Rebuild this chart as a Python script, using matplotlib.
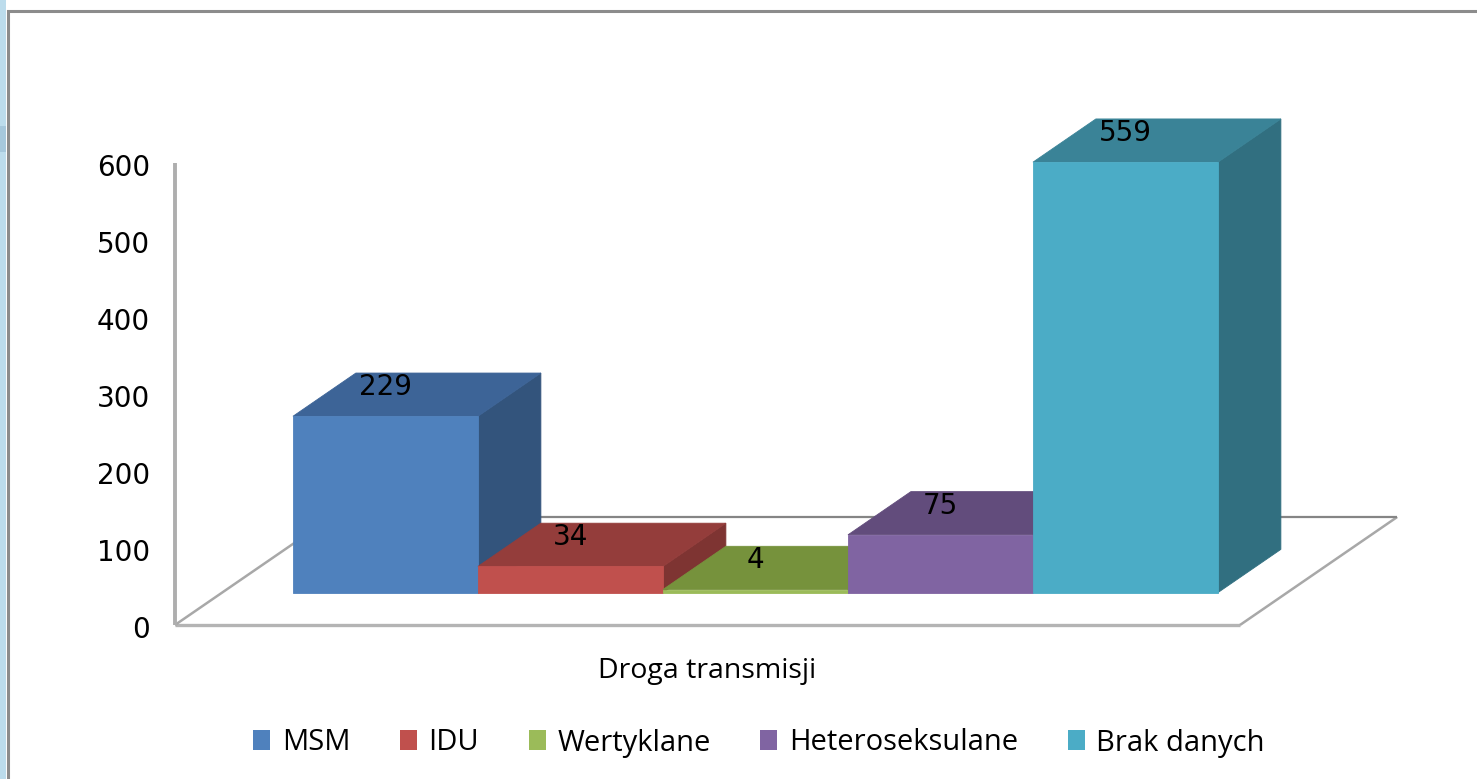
import matplotlib.pyplot as plt
from matplotlib.patches import Polygon, Rectangle, Patch

# data
categories = ['MSM', 'IDU', 'Wertyklane', 'Heteroseksulane', 'Brak danych']
values = [229, 34, 4, 75, 559]
y_ticks = [0, 100, 200, 300, 400, 500, 600]
axis_title = 'Droga transmisji'

front_colors = ['#4F81BD', '#C0504D', '#9BBB59', '#8064A2', '#4BACC6']
top_colors = ['#3D6497', '#943D3B', '#76923C', '#624C7C', '#3A8397']
side_colors = ['#33547C', '#7E3432', '#637A33', '#534267', '#316F80']

# fake 3d: depth offset in (category, value) units
DX, DY = 0.85, 140.3
Z0, Z1 = 0.3, 0.7
FLOOR = (-0.883, 4.874)


def proj(x, v, z):
    return (x + z * DX, v + z * DY)


fig = plt.figure(figsize=(14.77, 7.79), dpi=100, facecolor='white')
ax = fig.add_axes([0, 0, 1, 1])
ax.set_xlim(-338.3 / 185, (1477 - 338.3) / 185)
ax.set_ylim((625 - 779) / 0.77, 625 / 0.77)
ax.axis('off')

# slide decoration: blue strip on the left + frame of the chart area
fig.add_artist(Rectangle((0, 0), 6 / 1477, 1, transform=fig.transFigure,
                         facecolor='#BCDCEC', edgecolor='none'))
fig.add_artist(Rectangle((0, 1 - 152 / 779), 6 / 1477, 26 / 779, transform=fig.transFigure,
                         facecolor='#A6C8DC', edgecolor='none'))
fig.add_artist(Rectangle((8 / 1477, -0.1), 1.2, 1.1 - 11 / 779, transform=fig.transFigure,
                         facecolor='none', edgecolor='#8C8C8C', lw=2.2))

# floor and value axis
x0, x1 = FLOOR
grey = '#A8A8A8'
for a, b, c, lw in [((x0, 0, 0), (x1, 0, 0), '#B4B4B4', 2.4),
                    ((x0, 0, 0), (x0, 0, 1), grey, 1.8),
                    ((x1, 0, 0), (x1, 0, 1), grey, 1.8),
                    ((x0, 0, 1), (x1, 0, 1), '#858585', 1.6),
                    ((x0, 0, 0), (x0, y_ticks[-1], 0), '#AEAEAE', 2.8)]:
    p, q = proj(*a), proj(*b)
    ax.plot([p[0], q[0]], [p[1], q[1]], color=c, lw=lw, solid_capstyle='butt', zorder=1)

for t in y_ticks:
    ax.text(x0 - 0.135, t - 6, str(t), ha='right', va='center', fontsize=20,
            family='DejaVu Sans', color='black')

# boxes, drawn left to right so the next one hides the side of the previous
for i, (v, fc, tc, sc) in enumerate(zip(values, front_colors, top_colors, side_colors)):
    l, r = i - 0.5, i + 0.5
    front = [proj(l, 0, Z0), proj(r, 0, Z0), proj(r, v, Z0), proj(l, v, Z0)]
    top = [proj(l, v, Z0), proj(r, v, Z0), proj(r, v, Z1), proj(l, v, Z1)]
    side = [proj(r, 0, Z0), proj(r, v, Z0), proj(r, v, Z1), proj(r, 0, Z1)]
    z = 2 + i
    ax.add_patch(Polygon(side, closed=True, facecolor=sc, edgecolor=sc, lw=0.6, zorder=z))
    ax.add_patch(Polygon(top, closed=True, facecolor=tc, edgecolor=tc, lw=0.6, zorder=z))
    ax.add_patch(Polygon(front, closed=True, facecolor=fc, edgecolor=fc, lw=0.6, zorder=z))
    lx, ly = proj(i, v, Z0)
    ax.text(lx, v + 0.57 * DY, str(v), ha='center', va='center', fontsize=20,
            family='DejaVu Sans', color='black', zorder=10)

ax.text((x0 + x1) / 2, -60, axis_title, ha='center', va='center', fontsize=20.5,
        family='Open Sans', color='black')

handles = [Patch(facecolor=c, edgecolor='none', label=n) for n, c in zip(categories, front_colors)]
ax.legend(handles=handles, loc='center', bbox_to_anchor=(759 / 1477, 1 - 743 / 779),
          ncol=5, frameon=False, prop={'family': 'Open Sans', 'size': 21},
          handlelength=0.58, handleheight=0.68, handletextpad=0.4, columnspacing=1.7)

fig.savefig('out.png', dpi=100, facecolor='white')
